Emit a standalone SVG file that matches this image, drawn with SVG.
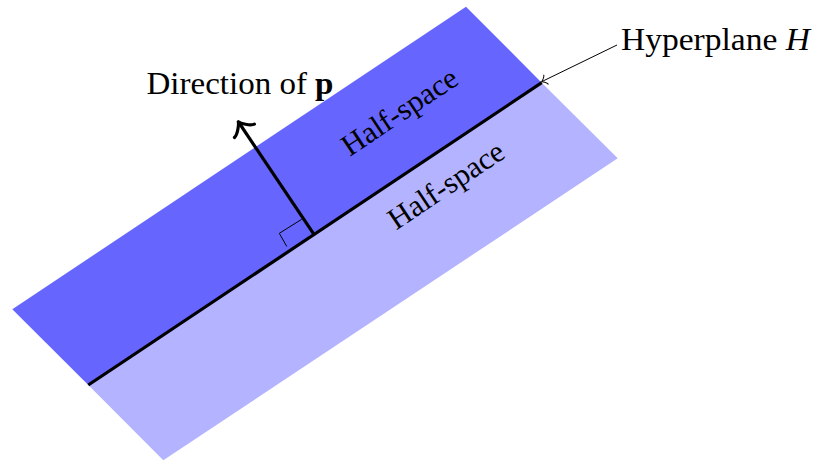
<svg xmlns="http://www.w3.org/2000/svg" width="814" height="461" viewBox="0 0 814 461">
  <style>
    .lbl { font-family: "Liberation Serif", "Times New Roman", serif; font-size: 30.5px; fill: #000; }
    .thick { stroke: #000; stroke-width: 3.2; fill: none; stroke-linecap: butt; }
    .thin { stroke: #000; stroke-width: 1; fill: none; }
  </style>
  <defs>
    <path id="bigHead" d="M -11,-12 C -10.3,-7.5 -2.3,-0.75 0,0 C -2.3,0.75 -10.3,7.5 -11,12" fill="none" stroke="#000" stroke-width="3.2" stroke-linecap="round" stroke-linejoin="round"/>
    <path id="smallHead" d="M -5,-5 C -4.6,-3 -1,-0.3 0,0 C -1,0.3 -4.6,3 -5,5" fill="none" stroke="#000" stroke-width="1" stroke-linecap="round"/>
  </defs>

  <g id="halfspace-upper">
    <polygon points="12.3,309.3 466,6.7 541.7,82.7 88.3,385" fill="#6666ff"/>
    <text class="lbl" x="0" y="0" text-anchor="middle" textLength="133" lengthAdjust="spacingAndGlyphs" transform="translate(405,120) rotate(-33.7)">Half-space</text>
  </g>

  <g id="halfspace-lower">
    <polygon points="88.3,385 541.7,82.7 617.7,158.3 163.3,460.3" fill="#b3b3ff"/>
    <text class="lbl" x="0" y="0" text-anchor="middle" textLength="133" lengthAdjust="spacingAndGlyphs" transform="translate(451.5,193.5) rotate(-33.7)">Half-space</text>
  </g>

  <g id="hyperplane">
    <line class="thick" x1="88.3" y1="385" x2="541.7" y2="82.7"/>
    <polyline class="thin" points="286.8,246.5 279.3,233.3 301.7,219.3"/>
  </g>

  <g id="direction-label">
    <text class="lbl" x="146.5" y="94" textLength="187" lengthAdjust="spacingAndGlyphs">Direction of <tspan font-weight="bold">p</tspan></text>
  </g>

  <g id="hyperplane-label">
    <text class="lbl" x="621" y="50" textLength="189" lengthAdjust="spacingAndGlyphs">Hyperplane <tspan font-style="italic">H</tspan></text>
  </g>

  <g id="connectors">
    <line class="thick" x1="313.3" y1="233.3" x2="239.2" y2="123"/>
    <use href="#bigHead" transform="translate(238.3,121.7) rotate(-123.9)"/>
    <line class="thin" x1="617" y1="45" x2="542" y2="81.5"/>
    <use href="#smallHead" transform="translate(541.5,81.8) rotate(154)"/>
  </g>
</svg>
